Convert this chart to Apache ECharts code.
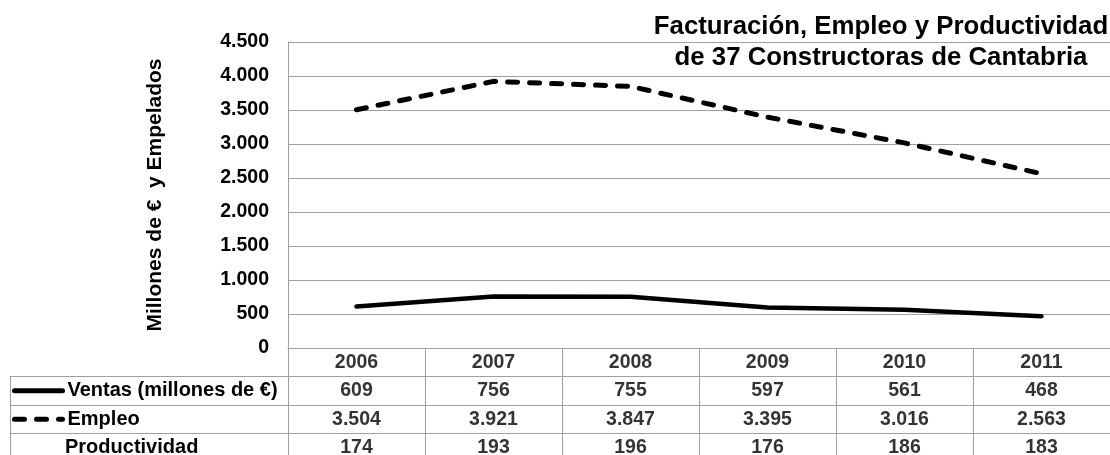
<!DOCTYPE html>
<html>
<head>
<meta charset="utf-8">
<script src="https://cdn.jsdelivr.net/npm/echarts@6/dist/echarts.min.js"></script>
<style>
  html, body { margin: 0; padding: 0; background: #fff; }
  #chart { width: 1110px; height: 455px; }
</style>
</head>
<body>
<div id="chart"></div>
<script>
// ---- data ----
const years = ['2006', '2007', '2008', '2009', '2010', '2011'];
const ventas = [609, 756, 755, 597, 561, 468];
const empleo = [3504, 3921, 3847, 3395, 3016, 2563];
const productividad = [174, 193, 196, 176, 186, 183];
const seriesNames = ['Ventas (millones de €)', 'Empleo', 'Productividad'];
const titleText = 'Facturación, Empleo y Productividad\nde 37 Constructoras de Cantabria';
const yAxisTitle = 'Millones de €  y Empelados';
const tableRows = ['header', 'ventas', 'empleo', 'productividad'];

const FONT = "'Liberation Sans', Arial, sans-serif";
const GRID_COLOR = '#a0a0a0';

function fmt(n) {
  return String(n).replace(/\B(?=(\d{3})+(?!\d))/g, '.');
}

// table cells built from the arrays
const cells = [];
years.forEach((y, i) => {
  cells.push([i, 0, y]);
  cells.push([i, 1, fmt(ventas[i])]);
  cells.push([i, 2, fmt(empleo[i])]);
  cells.push([i, 3, fmt(productividad[i])]);
});

const ROW_TOP = 348, ROW_H = 28.5;
const DASH = [10, 12];
const legendStyles = [
  { width: 5, type: 'solid', color: '#000', cap: 'round' },
  { width: 5, type: DASH, color: '#000', cap: 'round' },
  { width: 0, color: 'rgba(0,0,0,0)', opacity: 0 }
];
const legends = seriesNames.map((name, k) => ({
  orient: 'vertical',
  left: 12,
  top: ROW_TOP + ROW_H * (k + 1) + ROW_H / 2 - 11,
  padding: 0,
  itemGap: 0,
  itemWidth: 48,
  itemHeight: 14,
  selectedMode: false,
  data: [{
    name: name,
    lineStyle: legendStyles[k],
    itemStyle: { color: 'rgba(0,0,0,0)', borderWidth: 0, opacity: 0 }
  }],
  textStyle: {
    fontFamily: FONT, fontWeight: 'bold', fontSize: 20, color: '#000', lineHeight: 22
  }
}));

const chart = echarts.init(document.getElementById('chart'), null, { renderer: 'canvas' });

const option = {
  backgroundColor: '#fff',
  animation: false,
  title: {
    text: titleText,
    left: 881,
    top: 11,
    padding: 0,
    textAlign: 'center',
    textStyle: {
      fontFamily: FONT, fontWeight: 'bold', fontSize: 25.8, color: '#000', lineHeight: 31
    }
  },
  legend: legends,
  grid: [
    { left: 288, right: 0, top: 42, height: 306, containLabel: false, outerBoundsMode: 'none' },
    { left: 288, right: 0, top: ROW_TOP, height: ROW_H * 4, containLabel: false, outerBoundsMode: 'none' },
    { left: 10, width: 278, top: ROW_TOP + ROW_H, height: ROW_H * 3, containLabel: false, outerBoundsMode: 'none' }
  ],
  xAxis: [
    {
      gridIndex: 0, type: 'category', data: years, boundaryGap: true,
      axisLine: { show: true, lineStyle: { color: GRID_COLOR, width: 1 } },
      axisTick: { show: false }, axisLabel: { show: false }, splitLine: { show: false }
    },
    {
      gridIndex: 1, type: 'category', data: years, boundaryGap: true,
      axisLine: { show: false }, axisTick: { show: false }, axisLabel: { show: false },
      splitLine: { show: true, lineStyle: { color: GRID_COLOR, width: 1 } }
    },
    {
      gridIndex: 2, type: 'category', data: [''], boundaryGap: true,
      axisLine: { show: false }, axisTick: { show: false }, axisLabel: { show: false },
      splitLine: { show: true, lineStyle: { color: GRID_COLOR, width: 1 } }
    }
  ],
  yAxis: [
    {
      gridIndex: 0, type: 'value', min: 0, max: 4500, interval: 500,
      name: yAxisTitle, nameLocation: 'middle', nameRotate: 90, nameGap: 122,
      nameTextStyle: { fontFamily: FONT, fontWeight: 'bold', fontSize: 21, color: '#000' },
      axisLine: { show: true, lineStyle: { color: GRID_COLOR, width: 1 } },
      axisTick: { show: false },
      axisLabel: {
        margin: 19, fontFamily: FONT, fontWeight: 'bold', fontSize: 19.5, color: '#000',
        formatter: v => fmt(v)
      },
      splitLine: { show: true, lineStyle: { color: GRID_COLOR, width: 1 } }
    },
    {
      gridIndex: 1, type: 'category', data: tableRows, inverse: true,
      axisLine: { show: false }, axisTick: { show: false }, axisLabel: { show: false },
      splitLine: { show: true, lineStyle: { color: GRID_COLOR, width: 1 } }
    },
    {
      gridIndex: 2, type: 'category', data: tableRows.slice(1), inverse: true,
      axisLine: { show: false }, axisTick: { show: false }, axisLabel: { show: false },
      splitLine: { show: true, lineStyle: { color: GRID_COLOR, width: 1 } }
    }
  ],
  series: [
    {
      name: seriesNames[0], type: 'line', xAxisIndex: 0, yAxisIndex: 0,
      data: ventas, symbol: 'none', silent: true, color: '#000',
      lineStyle: { color: '#000', width: 4.5, cap: 'round', join: 'round' }
    },
    {
      name: seriesNames[1], type: 'line', xAxisIndex: 0, yAxisIndex: 0,
      data: empleo, symbol: 'none', silent: true, color: '#000',
      lineStyle: { color: '#000', width: 5, type: DASH, cap: 'round', join: 'round' }
    },
    {
      name: seriesNames[2], type: 'line', xAxisIndex: 0, yAxisIndex: 0,
      data: [], symbol: 'none', silent: true, color: 'rgba(0,0,0,0)',
      lineStyle: { opacity: 0 }
    },
    {
      name: 'tabla', type: 'scatter', xAxisIndex: 1, yAxisIndex: 1,
      data: cells, symbolSize: 0, silent: true,
      label: {
        show: true, position: 'inside',
        fontFamily: FONT, fontWeight: 'bold', fontSize: 19.5, color: '#000',
        formatter: p => p.value[2]
      }
    }
  ]
};

chart.setOption(option);
</script>
</body>
</html>
